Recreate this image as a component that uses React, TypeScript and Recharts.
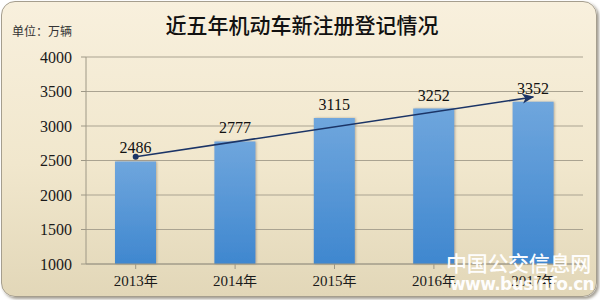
import React from "react";
import {
  Bar,
  CartesianGrid,
  ComposedChart,
  LabelList,
  Line,
  XAxis,
  YAxis,
} from "recharts";

const years = ["2013年", "2014年", "2015年", "2016年", "2017年"];
const registrations = [2486, 2777, 3115, 3252, 3352];
// trend arrow: start point and arrow tip
const trend = [2555, null, null, null, 3420];
const yTicks = [1000, 1500, 2000, 2500, 3000, 3500, 4000];

const data = years.map((year, i) => ({
  year,
  value: registrations[i],
  trend: trend[i],
}));

const serif = '"Liberation Serif", "Times New Roman", serif';
const cjk = '"Noto Sans CJK SC", sans-serif';

function TrendDot(props: any) {
  const { cx, cy, index } = props;
  if (index !== 0 || cx == null || cy == null) return <g key={`d-${index}`} />;
  return <circle key={`d-${index}`} cx={cx} cy={cy} r={3} fill="#1b3466" />;
}

function YearTick(props: any) {
  const { x, y, payload } = props;
  const label = String(payload.value);
  const num = label.replace("年", "");
  return (
    <text x={x} y={y + 15} textAnchor="middle" fill="#1a1a1a" fontSize={15}>
      <tspan fontFamily={serif}>{num}</tspan>
      <tspan fontFamily={cjk} fontSize={14}>年</tspan>
    </text>
  );
}

export default function App() {
  return (
    <div
      style={{
        position: "absolute",
        left: 0,
        top: 0,
        width: 600,
        height: 300,
        overflow: "hidden",
        background: "#ffffff",
      }}
    >
      <div
        style={{
          position: "absolute",
          left: 1,
          top: 1,
          width: 594,
          height: 294,
          borderRadius: 14,
          border: "1px solid #a59e8e",
          background: "linear-gradient(180deg, #f8f0dd 0%, #f1e7cd 55%, #e2d7b8 100%)",
          boxShadow: "2px 2px 3px rgba(90, 80, 60, 0.55)",
        }}
      />
      <div
        style={{
          position: "absolute",
          left: 0,
          top: 9,
          width: 600,
          textAlign: "center",
          fontFamily: cjk,
          fontSize: 21,
          fontWeight: 500,
          color: "#111",
          paddingLeft: 2,
        }}
      >
        近五年机动车新注册登记情况
      </div>
      <div
        style={{
          position: "absolute",
          left: 12,
          top: 22,
          fontFamily: cjk,
          fontSize: 12,
          color: "#333",
        }}
      >
        单位：万辆
      </div>
      <div style={{ position: "absolute", left: 0, top: 0 }}>
        <ComposedChart
          width={600}
          height={300}
          data={data}
          margin={{ top: 57, right: 17, left: 0, bottom: 0 }}
        >
          <defs>
            <linearGradient id="barFill" x1="0" y1="0" x2="0" y2="1">
              <stop offset="0%" stopColor="#6fa6dd" />
              <stop offset="100%" stopColor="#3f87cf" />
            </linearGradient>
            <marker
              id="arrowHead"
              viewBox="0 0 12 10"
              refX="11"
              refY="5"
              markerWidth="12"
              markerHeight="10"
              markerUnits="userSpaceOnUse"
              orient="auto"
            >
              <path d="M0,0 L12,5 L0,10 L3,5 Z" fill="#1b3466" />
            </marker>
            <filter id="barShadow" x="-20%" y="-10%" width="140%" height="120%">
              <feDropShadow dx="1" dy="0" stdDeviation="1.2" floodColor="#7a7060" floodOpacity="0.5" />
            </filter>
          </defs>
          <CartesianGrid vertical={false} stroke="#aaa391" strokeWidth={1} />
          <XAxis
            dataKey="year"
            height={36}
            axisLine={{ stroke: "#9e9886" }}
            tickLine={{ stroke: "#9e9886" }}
            tickSize={5}
            tick={<YearTick />}
            interval={0}
          />
          <YAxis
            domain={[1000, 4000]}
            ticks={yTicks}
            width={86}
            axisLine={{ stroke: "#9e9886" }}
            tickLine={{ stroke: "#9e9886" }}
            tickSize={5}
            tickMargin={9}
            tick={{ fontSize: 16, fill: "#1a1a1a", fontFamily: serif }}
          />
          <Bar
            dataKey="value"
            barSize={41}
            fill="url(#barFill)"
            filter="url(#barShadow)"
            isAnimationActive={false}
          >
            <LabelList
              dataKey="value"
              position="top"
              offset={8}
              fill="#111"
              fontSize={16}
              fontFamily={serif}
            />
          </Bar>
          <Line
            dataKey="trend"
            type="linear"
            connectNulls
            stroke="#1b3466"
            strokeWidth={1.6}
            dot={<TrendDot />}
            activeDot={false}
            markerEnd="url(#arrowHead)"
            isAnimationActive={false}
          />
        </ComposedChart>
      </div>
      <div
        style={{
          position: "absolute",
          left: 446,
          top: 249,
          fontFamily: cjk,
          fontSize: 21,
          fontWeight: 500,
          color: "rgba(255,255,255,0.97)",
          letterSpacing: -0.3,
          lineHeight: "26px",
        }}
      >
        中国公交信息网
      </div>
      <div
        style={{
          position: "absolute",
          left: 450,
          top: 274,
          fontFamily: '"DejaVu Sans", sans-serif',
          fontSize: 17,
          fontWeight: 700,
          color: "rgba(255,255,255,0.97)",
          letterSpacing: -0.6,
          lineHeight: "20px",
        }}
      >
        www.businfo.cn
      </div>
    </div>
  );
}
